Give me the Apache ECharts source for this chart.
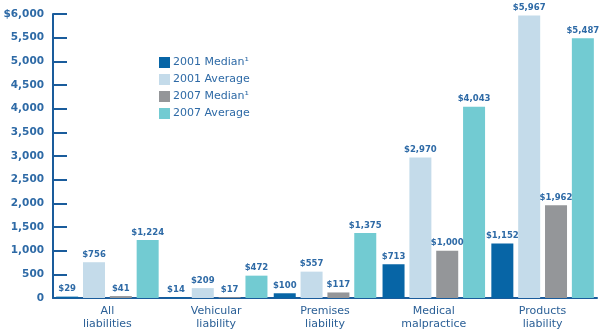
<!DOCTYPE html>
<html><head><meta charset="utf-8">
<script src="https://cdn.jsdelivr.net/npm/echarts@6/dist/echarts.min.js"></script>
<style>html,body{margin:0;padding:0;background:#fff}#c{width:600px;height:331px}</style>
</head><body><div id="c"></div>
<script>
var categories = ["All\nliabilities", "Vehicular\nliability", "Premises\nliability", "Medical\nmalpractice", "Products\nliability"];
var median2001 = [29, 14, 100, 713, 1152];
var average2001 = [756, 209, 557, 2970, 5967];
var median2007 = [41, 17, 117, 1000, 1962];
var average2007 = [1224, 472, 1375, 4043, 5487];
var seriesNames = ["2001 Median\u00b9", "2001 Average", "2007 Median\u00b9", "2007 Average"];
var colors = ["#0765a6", "#c4dbea", "#949699", "#72cbd2"];
var textBlue = "#2e6aa6";
var font = "DejaVu Sans";

function fmt(v){ return "$" + v.toLocaleString("en-US"); }

var chart = echarts.init(document.getElementById("c"));
var dataSets = [median2001, average2001, median2007, average2007];
var series = dataSets.map(function(d, i){
  return {
    name: seriesNames[i], type: "bar", data: d,
    barWidth: 22, barGap: "22%",
    itemStyle: { color: colors[i] },
    label: { show: true, position: "top", distance: 3, color: textBlue,
      fontFamily: font, fontSize: 8.5, fontWeight: "bold",
      formatter: function(p){ return fmt(p.value); } }
  };
});
chart.setOption({
  animation: false,
  color: colors,
  grid: { left: 53, right: 3, top: 14, bottom: 32, containLabel: false },
  legend: {
    orient: "vertical", left: 159, top: 57, padding: 0, itemWidth: 11, itemHeight: 11, itemGap: 6,
    icon: "rect",
    textStyle: { color: textBlue, fontFamily: font, fontSize: 11, padding: [0,0,0,-2] },
    data: seriesNames
  },
  xAxis: {
    type: "category", data: categories,
    axisLine: { lineStyle: { color: "#1a5c9c", width: 2 } },
    axisTick: { show: false },
    axisLabel: { color: "#2a5f96", fontFamily: font, fontSize: 11, lineHeight: 13, margin: 7 }
  },
  yAxis: {
    type: "value", min: 0, max: 6000, interval: 500,
    axisLine: { show: true, lineStyle: { color: "#1a5c9c", width: 2 } },
    axisTick: { show: true, inside: true, length: 14, lineStyle: { color: "#1a5c9c", width: 2 } },
    splitLine: { show: false },
    axisLabel: { color: textBlue, fontFamily: font, fontSize: 10.5, fontWeight: "bold", margin: 9,
      formatter: function(v){ return v === 6000 ? "$6,000" : v.toLocaleString("en-US"); } }
  },
  series: series
});
</script></body></html>
